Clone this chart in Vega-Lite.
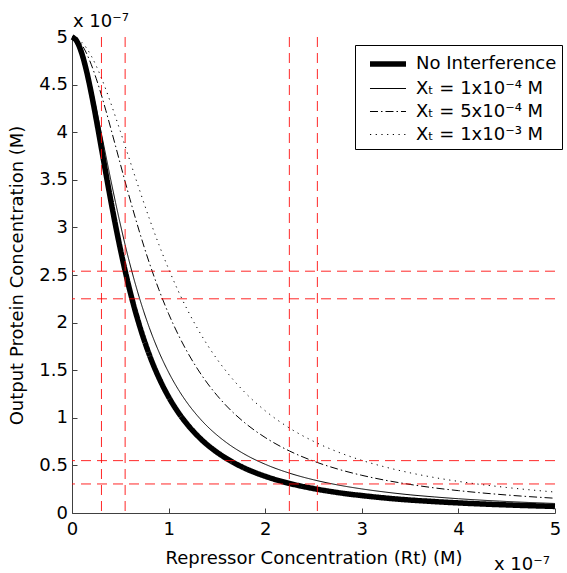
{
  "$schema": "https://vega.github.io/schema/vega-lite/v6.json",
  "width": 483,
  "height": 476,
  "autosize": {"type": "none"},
  "padding": {"left": 72, "top": 37, "right": 12, "bottom": 60},
  "background": "white",
  "config": {
    "view": {"stroke": null},
    "font": "DejaVu Sans",
    "axis": {
      "domainColor": "#404040", "tickColor": "#404040", "domainWidth": 1, "tickWidth": 1,
      "tickSize": -5, "labelFont": "DejaVu Sans", "labelFontSize": 18, "labelColor": "black",
      "titleFont": "DejaVu Sans", "titleFontSize": 18, "titleFontWeight": "normal", "titleColor": "black",
      "grid": false, "labelFlush": false, "labelOverlap": false
    },
    "legend": {
      "orient": "none", "legendX": 283, "legendY": 8, "strokeColor": "black", "fillColor": "white",
      "padding": 5, "symbolType": "M-0.364,0H2.909", "symbolSize": 484, "symbolStrokeColor": "black",
      "labelFont": "DejaVu Sans", "labelFontSize": 18, "labelColor": "black", "labelOffset": 28, "rowPadding": 2
    }
  },
  "datasets": {
    "curves": [
      {"x": 0, "a": 5, "b": 5, "c": 5, "d": 5},
      {"x": 0.05, "a": 4.955, "b": 4.958, "c": 4.979, "d": 4.986},
      {"x": 0.1, "a": 4.832, "b": 4.848, "c": 4.921, "d": 4.946},
      {"x": 0.15, "a": 4.644, "b": 4.684, "c": 4.829, "d": 4.884},
      {"x": 0.2, "a": 4.408, "b": 4.481, "c": 4.709, "d": 4.8},
      {"x": 0.25, "a": 4.141, "b": 4.252, "c": 4.566, "d": 4.698},
      {"x": 0.3, "a": 3.858, "b": 4.007, "c": 4.405, "d": 4.581},
      {"x": 0.35, "a": 3.572, "b": 3.756, "c": 4.23, "d": 4.45},
      {"x": 0.4, "a": 3.292, "b": 3.507, "c": 4.046, "d": 4.31},
      {"x": 0.45, "a": 3.025, "b": 3.265, "c": 3.858, "d": 4.162},
      {"x": 0.5, "a": 2.775, "b": 3.035, "c": 3.668, "d": 4.01},
      {"x": 0.55, "a": 2.544, "b": 2.817, "c": 3.48, "d": 3.854},
      {"x": 0.6, "a": 2.332, "b": 2.614, "c": 3.297, "d": 3.698},
      {"x": 0.7, "a": 1.965, "b": 2.253, "c": 2.948, "d": 3.39},
      {"x": 0.8, "a": 1.664, "b": 1.948, "c": 2.629, "d": 3.094},
      {"x": 0.9, "a": 1.42, "b": 1.692, "c": 2.345, "d": 2.818},
      {"x": 1.0, "a": 1.22, "b": 1.478, "c": 2.093, "d": 2.564},
      {"x": 1.1, "a": 1.057, "b": 1.298, "c": 1.873, "d": 2.332},
      {"x": 1.2, "a": 0.923, "b": 1.147, "c": 1.68, "d": 2.123},
      {"x": 1.3, "a": 0.811, "b": 1.02, "c": 1.512, "d": 1.936},
      {"x": 1.4, "a": 0.717, "b": 0.911, "c": 1.365, "d": 1.768},
      {"x": 1.5, "a": 0.639, "b": 0.819, "c": 1.237, "d": 1.618},
      {"x": 1.6, "a": 0.572, "b": 0.739, "c": 1.124, "d": 1.484},
      {"x": 1.8, "a": 0.465, "b": 0.61, "c": 0.938, "d": 1.256},
      {"x": 2.0, "a": 0.386, "b": 0.512, "c": 0.793, "d": 1.074},
      {"x": 2.25, "a": 0.311, "b": 0.419, "c": 0.652, "d": 0.893},
      {"x": 2.5, "a": 0.257, "b": 0.349, "c": 0.545, "d": 0.753},
      {"x": 2.75, "a": 0.215, "b": 0.295, "c": 0.462, "d": 0.642},
      {"x": 3.0, "a": 0.183, "b": 0.253, "c": 0.396, "d": 0.553},
      {"x": 3.25, "a": 0.157, "b": 0.219, "c": 0.343, "d": 0.481},
      {"x": 3.5, "a": 0.136, "b": 0.191, "c": 0.3, "d": 0.422},
      {"x": 3.75, "a": 0.12, "b": 0.169, "c": 0.264, "d": 0.373},
      {"x": 4.0, "a": 0.106, "b": 0.15, "c": 0.235, "d": 0.332},
      {"x": 4.5, "a": 0.085, "b": 0.121, "c": 0.189, "d": 0.268},
      {"x": 5.0, "a": 0.069, "b": 0.1, "c": 0.155, "d": 0.22}
    ],
    "guides": [{"v": 0.305}, {"v": 0.55}, {"v": 2.25}, {"v": 2.54}],
    "notes": [
      {"x": 0, "y": 5, "t": "x 10⁻⁷", "pos": "top"},
      {"x": 5, "y": 0, "t": "x 10⁻⁷", "pos": "bottom"}
    ]
  },
  "layer": [
    {
      "data": {"name": "curves"},
      "transform": [{"fold": ["a", "b", "c", "d"], "as": ["series", "y"]}],
      "mark": {"type": "line", "color": "black", "interpolate": "monotone"},
      "encoding": {
        "x": {"field": "x", "type": "quantitative", "scale": {"domain": [0, 5], "nice": false},
              "axis": {"values": [0, 1, 2, 3, 4, 5], "format": "~g", "labelPadding": 12, "title": "Repressor Concentration (Rt) (M)", "titlePadding": 11}},
        "y": {"field": "y", "type": "quantitative", "scale": {"domain": [0, 5], "nice": false},
              "axis": {"values": [0, 0.5, 1, 1.5, 2, 2.5, 3, 3.5, 4, 4.5, 5], "format": "~g", "labelPadding": 9.5, "title": "Output Protein Concentration (M)", "titlePadding": 12}},
        "strokeWidth": {"field": "series", "type": "nominal",
              "scale": {"type": "ordinal", "domain": ["a", "b", "c", "d"], "range": [5.5, 1, 1, 1]},
              "legend": {"title": null, "labelExpr": "datum.value == 'a' ? 'No Interference' : datum.value == 'b' ? 'Xₜ = 1x10⁻⁴ M' : datum.value == 'c' ? 'Xₜ = 5x10⁻⁴ M' : 'Xₜ = 1x10⁻³ M'"}},
        "strokeDash": {"field": "series", "type": "nominal",
              "scale": {"domain": ["a", "b", "c", "d"], "range": [[1, 0], [1, 0], [8, 3, 1.5, 3], [1.2, 4.5]]},
              "legend": {"title": null, "labelExpr": "datum.value == 'a' ? 'No Interference' : datum.value == 'b' ? 'Xₜ = 1x10⁻⁴ M' : datum.value == 'c' ? 'Xₜ = 5x10⁻⁴ M' : 'Xₜ = 1x10⁻³ M'"}}
      }
    },
    {
      "data": {"name": "guides"},
      "mark": {"type": "rule", "color": "#ff0000", "strokeDash": [10, 6], "strokeWidth": 1, "opacity": 0.85},
      "encoding": {"x": {"field": "v", "type": "quantitative"}}
    },
    {
      "data": {"name": "guides"},
      "mark": {"type": "rule", "color": "#ff0000", "strokeDash": [10, 6], "strokeWidth": 1, "opacity": 0.85},
      "encoding": {"y": {"field": "v", "type": "quantitative"}}
    },
    {
      "data": {"name": "notes"},
      "transform": [{"filter": "datum.pos == 'top'"}],
      "mark": {"type": "text", "align": "left", "baseline": "alphabetic", "dx": 1, "dy": -10, "fontSize": 18, "font": "DejaVu Sans", "color": "black"},
      "encoding": {"x": {"field": "x", "type": "quantitative"}, "y": {"field": "y", "type": "quantitative"}, "text": {"field": "t"}}
    },
    {
      "data": {"name": "notes"},
      "transform": [{"filter": "datum.pos == 'bottom'"}],
      "mark": {"type": "text", "align": "right", "baseline": "alphabetic", "dx": -5, "dy": 57, "fontSize": 18, "font": "DejaVu Sans", "color": "black"},
      "encoding": {"x": {"field": "x", "type": "quantitative"}, "y": {"field": "y", "type": "quantitative"}, "text": {"field": "t"}}
    }
  ]
}
